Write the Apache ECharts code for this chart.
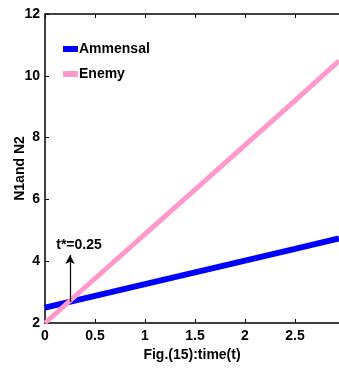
<!DOCTYPE html>
<html>
<head>
<meta charset="utf-8">
<script src="https://cdn.jsdelivr.net/npm/echarts@6/dist/echarts.min.js"></script>
<style>
  html, body { margin: 0; padding: 0; background: #fff; }
  #chart { width: 339px; height: 374px; }
</style>
</head>
<body>
<div id="chart"></div>
<script>
var times = [0, 0.5, 1, 1.5, 2, 2.5, 2.94];
var ammensal = [2.5, 2.88, 3.26, 3.64, 4.02, 4.4, 4.74];
var enemy = [2, 3.44, 4.88, 6.32, 7.76, 9.2, 10.48];
var seriesNames = ['Ammensal', 'Enemy'];
var tStar = 0.25;
var arrowFrom = 2.68, arrowTo = 4.2;

var font = "'Liberation Sans Narrow', 'Liberation Sans', Arial, sans-serif";

function pairs(ys) {
    return times.map(function (t, i) { return [t, ys[i]]; });
}

var myChart = echarts.init(document.getElementById('chart'));
var option = {
    animation: false,
    grid: { left: 45, top: 14, right: 0, bottom: 51, outerBoundsMode: 'none', containLabel: false },
    legend: {
        left: 58, top: 37, orient: 'vertical', itemGap: 11,
        itemWidth: 15, itemHeight: 6, icon: 'rect',
        textStyle: { fontFamily: font, fontWeight: 'bold', fontSize: 14, color: '#000', padding: [0, 0, 0, -4] },
        data: seriesNames
    },
    xAxis: [{
        type: 'value', min: 0, max: 2.94, interval: 0.5,
        name: 'Fig.(15):time(t)', nameLocation: 'middle', nameGap: 25, nameMoveOverlap: false,
        nameTextStyle: { fontFamily: font, fontWeight: 'bold', fontSize: 14, color: '#000' },
        axisLine: { lineStyle: { color: '#000', width: 1.5 } },
        axisTick: { inside: true, length: 4, lineStyle: { color: '#000' } },
        axisLabel: { fontFamily: font, fontWeight: 'bold', fontSize: 14, color: '#000', margin: 6,
            showMaxLabel: false },
        splitLine: { show: false }
    }, {
        type: 'value', position: 'top', min: 0, max: 2.94, interval: 0.5,
        axisLine: { show: true, lineStyle: { color: '#000', width: 1.5 } },
        axisTick: { inside: true, length: 4, lineStyle: { color: '#000' } },
        axisLabel: { show: false },
        splitLine: { show: false }
    }],
    yAxis: {
        type: 'value', min: 2, max: 12, interval: 2,
        name: 'N1and N2', nameLocation: 'middle', nameGap: 18, nameMoveOverlap: false,
        nameTextStyle: { fontFamily: font, fontWeight: 'bold', fontSize: 14, color: '#000' },
        axisLine: { show: true, lineStyle: { color: '#000', width: 1.5 } },
        axisTick: { show: true, inside: true, length: 4, lineStyle: { color: '#000' } },
        axisLabel: { fontFamily: font, fontWeight: 'bold', fontSize: 14, color: '#000', margin: 5 },
        splitLine: { show: false }
    },
    series: [{
        name: seriesNames[0], type: 'line', showSymbol: false,
        color: '#0000ff',
        lineStyle: { width: 6, color: '#0000ff' },
        data: pairs(ammensal)
    }, {
        name: seriesNames[1], type: 'line', showSymbol: false,
        color: '#ff99cc',
        lineStyle: { width: 5, color: '#ff99cc' },
        data: pairs(enemy),
        markLine: {
            silent: true, symbol: ['none', 'arrow'], symbolSize: [7, 9],
            lineStyle: { color: '#000', width: 1.2, type: 'solid' },
            label: {
                position: 'end', formatter: 't*=0.25', distance: 3, offset: [9, 0],
                fontFamily: font, fontWeight: 'bold', fontSize: 14, color: '#000'
            },
            data: [[{ coord: [tStar, arrowFrom] }, { coord: [tStar, arrowTo] }]]
        }
    }]
};

myChart.setOption(option);
</script>
</body>
</html>
